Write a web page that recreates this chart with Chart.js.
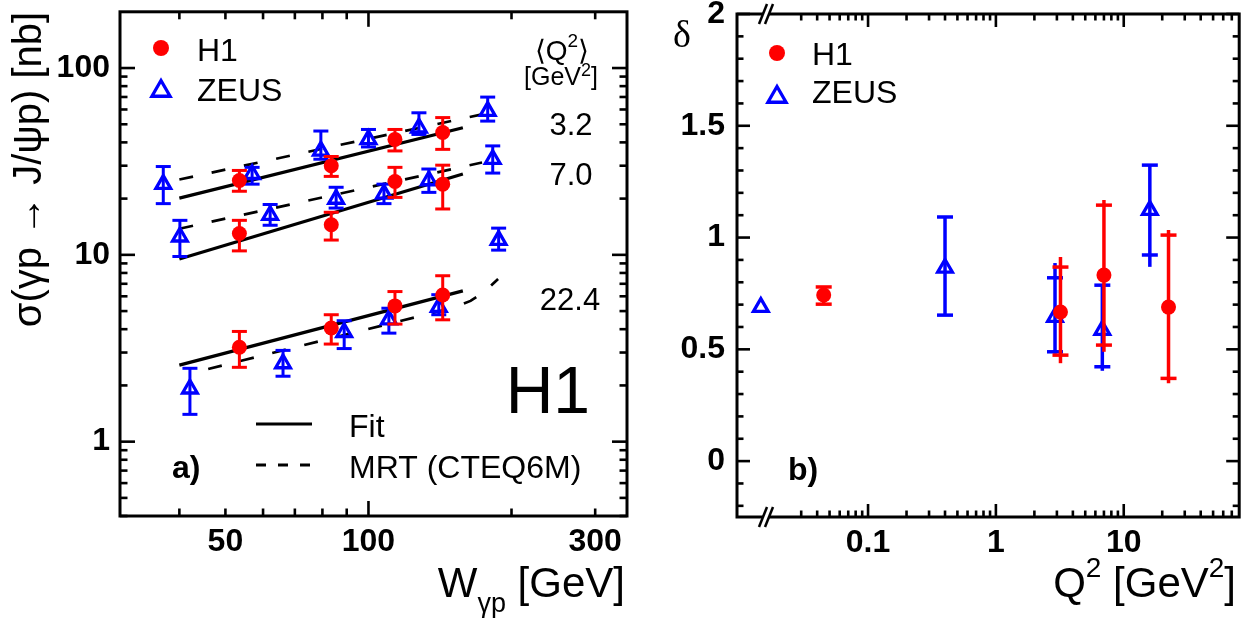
<!DOCTYPE html>
<html>
<head>
<meta charset="utf-8">
<script src="https://cdn.jsdelivr.net/npm/chart.js@4.4.0/dist/chart.umd.min.js"></script>
<style>
  body { margin: 0; background: #fff; width: 1251px; height: 621px; overflow: hidden; position: relative; }
  canvas { position: absolute; top: 0; }
</style>
</head>
<body>
<canvas id="ca" width="640" height="621" style="left:0"></canvas>
<canvas id="cb" width="611" height="621" style="left:640px"></canvas>
<script>
// ---- panel a: sigma(gamma p -> J/psi p) vs W, three <Q2> bins ----
// H1 points share the same W bins
const h1W = [53.5, 83.5, 113.7, 143.3];
const h1Sig32 = [25.0, 30.0, 41.5, 45.2];
const h1Lo32 = [21.9, 26.3, 36.0, 36.7];
const h1Hi32 = [28.3, 33.6, 46.9, 54.3];
const h1Sig70 = [13.0, 14.5, 24.7, 23.9];
const h1Lo70 = [10.5, 12.0, 20.3, 17.6];
const h1Hi70 = [15.3, 16.9, 29.4, 30.2];
const h1Sig224 = [3.2, 4.06, 5.33, 6.1];
const h1Lo224 = [2.5, 3.33, 4.26, 4.49];
const h1Hi224 = [3.89, 4.78, 6.36, 7.73];

const zW32 = [37.0, 56.9, 79.4, 100, 127.7, 178.2];
const zSig32 = [23.9, 27.0, 36.0, 41.5, 47.9, 58.8];
const zLo32 = [18.8, 23.9, 32.5, 37.8, 44.1, 52.0];
const zHi32 = [29.7, 29.4, 46.0, 46.9, 57.6, 69.9];
const zW70 = [40.1, 62.1, 85.5, 107.8, 134.0, 182.6];
const zSig70 = [12.5, 16.3, 19.9, 21.2, 25.0, 32.5];
const zLo70 = [9.8, 14.4, 17.8, 18.8, 21.6, 27.4];
const zHi70 = [15.3, 18.6, 23.0, 23.9, 28.8, 38.3];
const zW224 = [42.1, 66.1, 88.9, 110.4, 140.6, 187.9];
const zSig224 = [1.92, 2.62, 3.85, 4.5, 5.25, 12.0];
const zLo224 = [1.40, 2.24, 3.15, 3.81, 4.78, 10.6];
const zHi224 = [2.47, 3.08, 4.44, 5.18, 6.12, 13.9];

// fit (solid) and MRT CTEQ6M (dashed) curves
const fitW = [40, 158];
const fit32 = [20.1, 47.9];
const fit70 = [9.5, 27.1];
const fit224 = [2.57, 6.41];
const mrtW = [40, 173.4];
const mrt32 = [25.3, 56.5];
const mrt70 = [13.8, 31.2];
const mrt224W = [46, 151.3, 164, 174.8, 187.4];
const mrt224 = [2.45, 5.22, 5.67, 6.3, 7.43];

const q2Labels = ['3.2', '7.0', '22.4'];

// ---- panel b: delta vs Q2 ----
const bH1Q2 = [0.045, 3.2, 7.0, 22.4];
const bH1Delta = [0.743, 0.667, 0.832, 0.689];
const bH1TotLo = [0.702, 0.438, 0.489, 0.348];
const bH1TotHi = [0.779, 0.913, 1.168, 1.034];
const bH1StatLo = [0.702, 0.474, 0.519, 0.37];
const bH1StatHi = [0.779, 0.868, 1.145, 1.011];
const bZQ2 = [0.0145, 0.4, 2.9, 6.8, 16];
const bZDelta = [0.689, 0.864, 0.644, 0.586, 1.123];
const bZTotLo = [0.689, 0.653, 0.48, 0.404, 0.869];
const bZTotHi = [0.689, 1.092, 0.886, 0.787, 1.324];
const bZStatLo = [0.689, 0.653, 0.489, 0.422, 0.922];
const bZStatHi = [0.689, 1.092, 0.82, 0.787, 1.324];

// tick labels
const aXTicks = [50, 100, 300];
const aYTicks = [1, 10, 100];
const bXTicks = [0.1, 1, 10];
const bYTicks = [0, 0.5, 1, 1.5, 2];

const RED = '#ff0000';
const BLUE = '#0000ff';
const SANS = '"Liberation Sans", Arial, sans-serif';

const pts = (xs, ys) => xs.map((x, i) => ({ x: x, y: ys[i] }));

function minorLog(decades, lo, hi) {
  const out = [];
  decades.forEach(d => { for (let m = 2; m <= 9; m++) { const v = +(m * d).toPrecision(3); if (v > lo && v < hi) out.push(v); } });
  return out;
}

// error bars drawn right before each marker dataset
const errorBars = {
  id: 'errorBars',
  beforeDatasetDraw(chart, args) {
    const ds = chart.data.datasets[args.index];
    if (!ds.totLo) return;
    const ctx = chart.ctx, xs = chart.scales.x, ys = chart.scales.y;
    const half = ds.capHalf || 7;
    ctx.save();
    ctx.strokeStyle = ds.errColor;
    ctx.lineWidth = ds.errWidth || 3;
    ds.data.forEach((p, i) => {
      if (ds.totHi[i] - ds.totLo[i] < 1e-6) return;
      const x = xs.getPixelForValue(p.x);
      const y1 = ys.getPixelForValue(ds.totLo[i]);
      const y2 = ys.getPixelForValue(ds.totHi[i]);
      ctx.beginPath(); ctx.moveTo(x, y1); ctx.lineTo(x, y2); ctx.stroke();
      const caps = [ds.statLo ? ds.statLo[i] : ds.totLo[i], ds.statHi ? ds.statHi[i] : ds.totHi[i]];
      caps.forEach(v => {
        const yc = ys.getPixelForValue(v);
        ctx.beginPath(); ctx.moveTo(x - half, yc); ctx.lineTo(x + half, yc); ctx.stroke();
      });
    });
    ctx.restore();
  }
};

function frameTicks(opt) {
  return {
    id: 'frameTicks',
    afterDraw(chart) {
      const ctx = chart.ctx, a = chart.chartArea, xs = chart.scales.x, ys = chart.scales.y;
      const seg = (x1, y1, x2, y2) => { ctx.beginPath(); ctx.moveTo(x1, y1); ctx.lineTo(x2, y2); ctx.stroke(); };
      ctx.save();
      ctx.strokeStyle = '#000';
      ctx.lineWidth = 2.6;
      const xt = (vals, len) => vals.forEach(v => {
        const px = xs.getPixelForValue(v);
        seg(px, a.bottom, px, a.bottom - len); seg(px, a.top, px, a.top + len);
      });
      const yt = (vals, len) => vals.forEach(v => {
        const py = ys.getPixelForValue(v);
        seg(a.left, py, a.left + len, py); seg(a.right, py, a.right - len, py);
      });
      xt(opt.xMinor, opt.minor); xt(opt.xMajor, opt.major);
      yt(opt.yMinor, opt.minor); yt(opt.yMajor, opt.major);
      ctx.lineWidth = 3;
      ctx.strokeRect(a.left, a.top, a.right - a.left, a.bottom - a.top);
      ctx.restore();
    }
  };
}

function richText(ctx, parts, x, y, align) {
  let w = 0;
  parts.forEach(p => { ctx.font = (p[3] || '') + ' ' + p[1] + 'px ' + (p[4] || SANS); w += ctx.measureText(p[0]).width; });
  let cx = align === 'right' ? x - w : align === 'center' ? x - w / 2 : x;
  ctx.textAlign = 'left';
  ctx.textBaseline = 'alphabetic';
  parts.forEach(p => {
    ctx.font = (p[3] || '') + ' ' + p[1] + 'px ' + (p[4] || SANS);
    ctx.fillText(p[0], cx, y + (p[2] || 0));
    cx += ctx.measureText(p[0]).width;
  });
}

function drawCircle(ctx, x, y, r) {
  ctx.fillStyle = RED;
  ctx.beginPath(); ctx.arc(x, y, r, 0, Math.PI * 2); ctx.fill();
}
function drawTriangle(ctx, x, y, r) {
  ctx.strokeStyle = BLUE; ctx.lineWidth = 3.3; ctx.lineJoin = 'miter';
  ctx.beginPath();
  ctx.moveTo(x, y - r);
  ctx.lineTo(x + r * 0.866, y + r * 0.5);
  ctx.lineTo(x - r * 0.866, y + r * 0.5);
  ctx.closePath(); ctx.stroke();
}

const annotA = {
  id: 'annotA',
  afterDraw(chart) {
    const ctx = chart.ctx;
    ctx.save();
    drawCircle(ctx, 161, 48, 8);
    drawTriangle(ctx, 161, 91, 10.5);
    ctx.fillStyle = '#000';
    richText(ctx, [['H1', 32]], 197, 61, 'left');
    richText(ctx, [['ZEUS', 32]], 197, 101, 'left');
    richText(ctx, [['\u27E8', 28], ['Q', 28], ['2', 19, -13], ['\u27E9', 28]], 562, 60, 'center');
    richText(ctx, [['[GeV', 25], ['2', 18, -9], [']', 25]], 561, 85, 'center');
    richText(ctx, [[q2Labels[0], 31]], 571, 135, 'center');
    richText(ctx, [[q2Labels[1], 31]], 571, 185, 'center');
    richText(ctx, [[q2Labels[2], 31]], 570, 310, 'center');
    richText(ctx, [['H1', 66]], 590, 413, 'right');
    // legend for curves
    ctx.strokeStyle = '#000';
    ctx.lineWidth = 3;
    ctx.beginPath(); ctx.moveTo(256, 424); ctx.lineTo(312, 424); ctx.stroke();
    ctx.setLineDash([10, 12]);
    ctx.beginPath(); ctx.moveTo(256, 465); ctx.lineTo(312, 465); ctx.stroke();
    ctx.setLineDash([]);
    richText(ctx, [['Fit', 32]], 349, 437, 'left');
    richText(ctx, [['MRT (CTEQ6M)', 32]], 349, 478, 'left');
    richText(ctx, [['a)', 32, 0, 'bold']], 172, 478, 'left');
    richText(ctx, [['W', 42], ['\u03B3p', 27, 15], [' [GeV]', 42]], 625, 597, 'right');
    ctx.restore();
  }
};

const annotB = {
  id: 'annotB',
  afterDraw(chart) {
    const ctx = chart.ctx, a = chart.chartArea;
    ctx.save();
    // axis break marks on top and bottom axes
    const bx = a.left + 31;
    [a.top, a.bottom].forEach(by => {
      ctx.fillStyle = '#fff';
      ctx.beginPath();
      ctx.moveTo(bx - 6.5, by + 3); ctx.lineTo(bx - 3.5, by - 3);
      ctx.lineTo(bx + 2.5, by - 3); ctx.lineTo(bx - 0.5, by + 3);
      ctx.closePath(); ctx.fill();
      ctx.strokeStyle = '#000'; ctx.lineWidth = 2.5;
      ctx.beginPath(); ctx.moveTo(bx - 9, by + 10); ctx.lineTo(bx - 1, by - 10); ctx.stroke();
      ctx.beginPath(); ctx.moveTo(bx - 3, by + 10); ctx.lineTo(bx + 5, by - 10); ctx.stroke();
    });
    drawCircle(ctx, 137, 53, 8);
    drawTriangle(ctx, 137, 97, 10.5);
    ctx.fillStyle = '#000';
    richText(ctx, [['H1', 32]], 172, 65, 'left');
    richText(ctx, [['ZEUS', 32]], 172, 103, 'left');
    richText(ctx, [['b)', 32, 0, 'bold']], 148, 480, 'left');
    richText(ctx, [['\u03B4', 38, 0, '', '"Liberation Serif", "DejaVu Serif", serif']], 42, 47, 'center');
    richText(ctx, [['Q', 42], ['2', 28, -20], [' [GeV', 42], ['2', 28, -20], [']', 42]], 596, 597, 'right');
    ctx.restore();
  }
};

function fitAxis(size, horizontal) {
  return s => {
    if (horizontal) s.height = size; else s.width = size;
    s.paddingTop = 0; s.paddingBottom = 0; s.paddingLeft = 0; s.paddingRight = 0;
  };
}
function tickFont() { return { family: SANS, size: 32, weight: 'bold' }; }

function markerSet(xs, ys, lo, hi, h1) {
  return {
    data: pts(xs, ys), totLo: lo, totHi: hi,
    errColor: h1 ? RED : BLUE, errWidth: 3, capHalf: 7.5,
    pointStyle: h1 ? 'circle' : 'triangle', pointRadius: h1 ? 7.5 : 8.5,
    backgroundColor: h1 ? RED : 'rgba(0,0,0,0)', borderColor: h1 ? RED : BLUE,
    borderWidth: h1 ? 0 : 3.3, order: h1 ? 0 : 1
  };
}
function curveSet(xs, ys, dashed) {
  return {
    data: pts(xs, ys), showLine: true, pointRadius: 0, borderColor: '#000',
    borderWidth: dashed ? 2.7 : 3.3, borderDash: dashed ? [14, 19] : [], order: 2
  };
}

Chart.defaults.color = '#000';

new Chart(document.getElementById('ca'), {
  type: 'scatter',
  data: {
    datasets: [
      curveSet(fitW, fit32, false), curveSet(fitW, fit70, false), curveSet(fitW, fit224, false),
      curveSet(mrtW, mrt32, true), curveSet(mrtW, mrt70, true), curveSet(mrt224W, mrt224, true),
      markerSet(zW32, zSig32, zLo32, zHi32, false),
      markerSet(zW70, zSig70, zLo70, zHi70, false),
      markerSet(zW224, zSig224, zLo224, zHi224, false),
      markerSet(h1W, h1Sig32, h1Lo32, h1Hi32, true),
      markerSet(h1W, h1Sig70, h1Lo70, h1Hi70, true),
      markerSet(h1W, h1Sig224, h1Lo224, h1Hi224, true)
    ]
  },
  options: {
    responsive: false, animation: false, events: [],
    layout: { padding: { top: 8, right: 13, left: 0, bottom: 0 } },
    plugins: { legend: { display: false }, tooltip: { enabled: false } },
    scales: {
      x: {
        type: 'logarithmic', min: 30, max: 350,
        afterFit: fitAxis(105, true),
        afterBuildTicks: s => { s.ticks = aXTicks.map(v => ({ value: v })); },
        grid: { display: false, drawTicks: false }, border: { display: false },
        ticks: { autoSkip: false, maxRotation: 0, padding: 7, color: '#000', font: tickFont(), callback: v => String(v) }
      },
      y: {
        type: 'logarithmic', min: 0.4, max: 200,
        afterFit: fitAxis(120, false),
        afterBuildTicks: s => { s.ticks = aYTicks.map(v => ({ value: v })); },
        grid: { display: false, drawTicks: false }, border: { display: false },
        ticks: { autoSkip: false, padding: 10, color: '#000', font: tickFont(), callback: v => String(v) },
        title: { display: true, text: 'σ(γp → J/ψp) [nb]', align: 'end', color: '#000', font: { family: SANS, size: 40 }, padding: { top: 6, bottom: 0 } }
      }
    }
  },
  plugins: [errorBars, frameTicks({
    xMajor: [100], xMinor: [40, 50, 60, 70, 80, 90, 200, 300],
    yMajor: [1, 10, 100], yMinor: minorLog([0.1, 1, 10, 100], 0.39, 199),
    major: 15, minor: 7.5
  }), annotA]
});

const bYMinor = [];
for (let k = -2; k <= 19; k++) { if (k % 5 !== 0) bYMinor.push(k / 10); }

new Chart(document.getElementById('cb'), {
  type: 'scatter',
  data: {
    datasets: [
      Object.assign(markerSet(bZQ2, bZDelta, bZTotLo, bZTotHi, false), { statLo: bZStatLo, statHi: bZStatHi, errWidth: 3.5, capHalf: 8 }),
      Object.assign(markerSet(bH1Q2, bH1Delta, bH1TotLo, bH1TotHi, true), { statLo: bH1StatLo, statHi: bH1StatHi, errWidth: 3.5, capHalf: 8 })
    ]
  },
  options: {
    responsive: false, animation: false, events: [],
    layout: { padding: { top: 14, right: 11, left: 0, bottom: 0 } },
    plugins: { legend: { display: false }, tooltip: { enabled: false } },
    scales: {
      x: {
        type: 'logarithmic', min: 0.00944, max: 80,
        afterFit: fitAxis(104, true),
        afterBuildTicks: s => { s.ticks = bXTicks.map(v => ({ value: v })); },
        grid: { display: false, drawTicks: false }, border: { display: false },
        ticks: { autoSkip: false, maxRotation: 0, padding: 7, color: '#000', font: tickFont(), callback: v => String(v) }
      },
      y: {
        type: 'linear', min: -0.25, max: 2,
        afterFit: fitAxis(97, false),
        afterBuildTicks: s => { s.ticks = bYTicks.map(v => ({ value: v })); },
        grid: { display: false, drawTicks: false }, border: { display: false },
        ticks: { autoSkip: false, padding: 12, color: '#000', font: tickFont(), callback: v => String(v) }
      }
    }
  },
  plugins: [errorBars, frameTicks({
    xMajor: bXTicks, xMinor: minorLog([0.01, 0.1, 1, 10], 0.025, 79),
    yMajor: bYTicks, yMinor: bYMinor,
    major: 13, minor: 6.5
  }), annotB]
});
</script>
</body>
</html>
